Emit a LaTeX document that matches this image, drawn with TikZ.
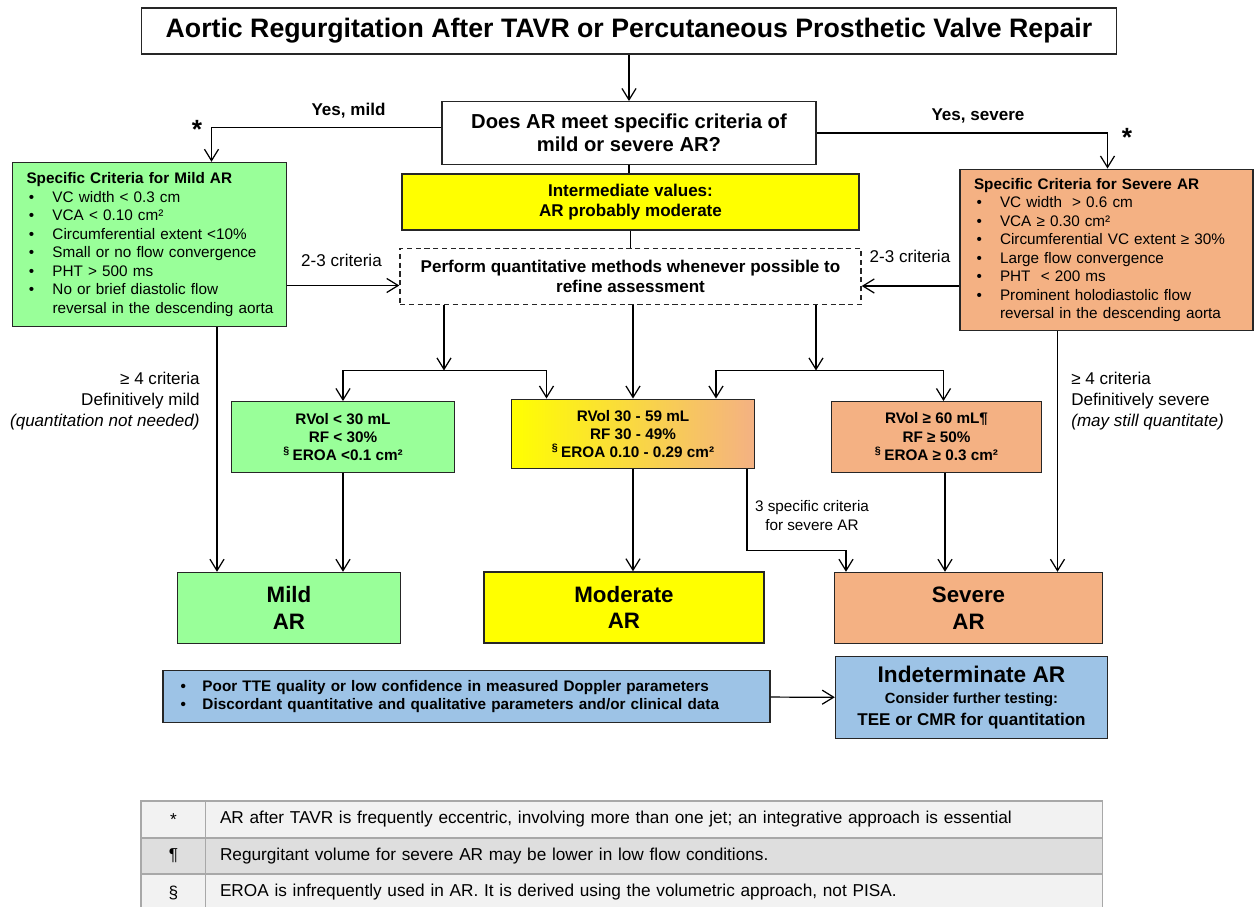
\documentclass[tikz,border=0pt]{standalone}
\usepackage{fontspec}
\setmainfont{Liberation Sans}
\usetikzlibrary{arrows.meta}
\definecolor{mildgreen}{HTML}{99FF99}
\definecolor{modyellow}{HTML}{FFFF00}
\definecolor{sevorange}{HTML}{F4B183}
\definecolor{indblue}{HTML}{9DC3E6}
\definecolor{rowlight}{HTML}{F2F2F2}
\definecolor{rowdark}{HTML}{DEDEDE}
\definecolor{rowline}{HTML}{A8A8A8}
\newcommand{\critbul}{\makebox[0.52cm][l]{\hspace{0.05cm}\textbullet}}
\newcommand{\critgap}{\hspace*{0.52cm}}
\newcommand{\cavbul}{\makebox[0.44cm][l]{\textbullet}}
\begin{document}
\begin{tikzpicture}[
	box/.style={draw=black!85, line width=0.8pt, align=center, inner sep=0pt},
	qtext/.style={font=\bfseries\fontsize{11.5}{13.2}\selectfont},
	btext/.style={font=\bfseries\fontsize{9.7}{11.4}\selectfont},
	vtext/.style={font=\bfseries\fontsize{8.7}{10.5}\selectfont},
	grade/.style={font=\bfseries\fontsize{12.7}{15.1}\selectfont},
	critbox/.style={box, align=left, inner xsep=0.28cm, font=\fontsize{8.7}{10.5}\selectfont},
	label/.style={inner sep=0pt, font=\fontsize{9.7}{11.9}\selectfont},
	star/.style={inner sep=0pt, font=\bfseries\fontsize{15}{15}\selectfont},
	arr/.style={draw=black, line width=0.7pt, -{Straight Barb[length=6.5pt,width=8pt,line width=0.7pt]}},
	conn/.style={draw=black, line width=0.7pt},
	cell/.style={draw=rowline, line width=1pt, inner sep=0pt, minimum height=0.73cm, font=\fontsize{9.8}{11.8}\selectfont}
]
	\useasboundingbox (0,0) rectangle (25.10,-18.14);
	\node[box, line width=1pt, minimum width=19.50cm, minimum height=0.93cm, font=\bfseries\fontsize{15.2}{18}\selectfont] (title) at (12.58,-0.62) {Aortic Regurgitation After TAVR or Percutaneous Prosthetic Valve Repair};
	\node[box, qtext, minimum width=7.48cm, minimum height=1.25cm] (question) at (12.58,-2.66) {Does AR meet specific criteria of\\mild or severe AR?};
	\node[box, btext, fill=modyellow, minimum width=9.14cm, minimum height=1.12cm] (interm) at (12.61,-4.04) {Intermediate values:\\AR probably moderate};
	\node[box, btext, dash pattern=on 3pt off 2pt, minimum width=9.22cm, minimum height=1.13cm] (quant) at (12.61,-5.53) {Perform quantitative methods whenever possible to\\refine assessment};
	\node[critbox, fill=mildgreen, text width=4.92cm, minimum height=3.28cm] (mildcrit) at (2.99,-4.89) {\textbf{Specific Criteria for Mild AR}\\
		\critbul VC width < 0.3 cm\\
		\critbul VCA < 0.10 cm²\\
		\critbul Circumferential extent <10\%\\
		\critbul Small or no flow convergence\\
		\critbul PHT > 500 ms\\
		\critbul No or brief diastolic flow\\
		\critgap\mbox{reversal in the descending aorta}};
	\node[critbox, fill=sevorange, text width=5.30cm, minimum height=3.23cm] (sevcrit) at (22.13,-5.00) {\textbf{Specific Criteria for Severe AR}\\
		\critbul VC width \ > 0.6 cm\\
		\critbul VCA ≥ 0.30 cm²\\
		\critbul Circumferential VC extent ≥ 30\%\\
		\critbul Large flow convergence\\
		\critbul PHT \ < 200 ms\\
		\critbul Prominent holodiastolic flow\\
		\critgap\mbox{reversal in the descending aorta}};
	\node[box, vtext, fill=mildgreen, minimum width=4.45cm, minimum height=1.41cm] (mildq) at (6.86,-8.74) {RVol < 30 mL\\RF < 30\%\\\textsuperscript{§}\,EROA <0.1 cm²};
	\node[box, vtext, left color=modyellow, right color=sevorange, minimum width=4.86cm, minimum height=1.39cm] (modq) at (12.66,-8.68) {RVol 30 - 59 mL\\RF 30 - 49\%\\\textsuperscript{§}\,EROA 0.10 - 0.29 cm²};
	\node[box, vtext, fill=sevorange, minimum width=4.21cm, minimum height=1.41cm] (sevq) at (18.73,-8.74) {RVol ≥ 60 mL¶\\RF ≥ 50\%\\\textsuperscript{§}\,EROA ≥ 0.3 cm²};
	\node[box, grade, fill=mildgreen, minimum width=4.45cm, minimum height=1.42cm] (mildar) at (5.78,-12.16) {Mild\\AR};
	\node[box, grade, fill=modyellow, minimum width=5.60cm, minimum height=1.42cm] (modar) at (12.48,-12.15) {Moderate\\AR};
	\node[box, grade, fill=sevorange, minimum width=5.37cm, minimum height=1.42cm] (sevar) at (19.37,-12.16) {Severe\\AR};
	\node[box, fill=indblue, align=left, text width=11.44cm, inner xsep=0.35cm, minimum height=1.03cm, font=\bfseries\fontsize{8.7}{10.4}\selectfont] (caveat) at (9.33,-13.93) {\cavbul Poor TTE quality or low confidence in measured Doppler parameters\\\cavbul Discordant quantitative and qualitative parameters and/or clinical data};
	\node[box, fill=indblue, minimum width=5.44cm, minimum height=1.63cm, font=\bfseries] (indet) at (19.43,-13.95) {\fontsize{12.9}{15}\selectfont Indeterminate AR\\\fontsize{8.4}{11.6}\selectfont Consider further testing:\\\fontsize{9.7}{11.9}\selectfont TEE or CMR for quantitation};
	\node[label, font=\bfseries\fontsize{9.7}{11.9}\selectfont] (yesmild) at (6.97,-2.22) {Yes, mild};
	\node[label, font=\bfseries\fontsize{9.7}{11.9}\selectfont] (yessev) at (19.56,-2.31) {Yes, severe};
	\node[star] (starmild) at (3.94,-2.58) {*};
	\node[star] (starsev) at (22.54,-2.75) {*};
	\node[label] (mildcount) at (6.83,-5.20) {2-3 criteria};
	\node[label] (sevcount) at (18.20,-5.13) {2-3 criteria};
	\node[label, anchor=east, align=right] (milddef) at (4.00,-8.02) {≥ 4 criteria\\Definitively mild\\\textit{(quantitation not needed)}};
	\node[label, anchor=west, align=left] (sevdef) at (21.42,-8.03) {≥ 4 criteria\\Definitively severe\\\textit{(may still quantitate)}};
	\node[label, align=center, font=\fontsize{8.7}{10.8}\selectfont] (sevthree) at (16.24,-10.32) {3 specific criteria\\for severe AR};
	\draw[arr] (title) -- (question);
	\draw[arr] ([yshift=0.11cm]question.west) -| ([xshift=1.24cm]mildcrit.north);
	\draw[arr] (question.east) -| ([xshift=0.02cm]sevcrit.north);
	\draw[conn] (question.south) -- (question.south |- interm.north);
	\draw[conn] (interm.south) -- (interm.south |- quant.north);
	\coordinate (mildout) at ([yshift=-0.82cm]mildcrit.east);
	\coordinate (sevout) at ([yshift=-0.72cm]sevcrit.west);
	\draw[arr] (mildout) -- (mildout -| quant.west);
	\draw[arr] (sevout) -- (sevout -| quant.east);
	\coordinate (splitl) at (8.88,-7.41);
	\coordinate (splitr) at (16.32,-7.41);
	\draw[arr] (splitl |- quant.south) -- (splitl);
	\draw[arr] (splitr |- quant.south) -- (splitr);
	\draw[arr] (splitl) -| (mildq.north);
	\draw[arr] (splitl) -| ([xshift=-1.73cm]modq.north);
	\draw[arr] (modq.north |- quant.south) -- (modq.north);
	\draw[arr] (splitr) -| ([xshift=1.66cm]modq.north);
	\draw[arr] (splitr) -| ([xshift=0.14cm]sevq.north);
	\coordinate (milddrop) at ([xshift=1.35cm]mildcrit.south);
	\coordinate (sevdrop) at ([xshift=-0.98cm]sevcrit.south);
	\coordinate (sevqdrop) at ([xshift=0.17cm]sevq.south);
	\draw[arr] (milddrop) -- (milddrop |- mildar.north);
	\draw[arr] (mildq.south) -- (mildq.south |- mildar.north);
	\draw[arr] (modq.south) -- (modq.south |- modar.north);
	\draw[arr] ([xshift=2.28cm]modq.south) -- ++(0,-1.62) -| ([xshift=-2.45cm]sevar.north);
	\draw[arr] (sevqdrop) -- (sevqdrop |- sevar.north);
	\draw[arr] (sevdrop) -- (sevdrop |- sevar.north);
	\draw[arr] (caveat) -- (indet);
	\node[cell, fill=rowlight, minimum width=1.29cm] (sym1) at (3.47,-16.39) {*};
	\node[cell, fill=rowlight, minimum width=17.94cm, text width=17.36cm, inner xsep=0.29cm, align=left] (note1) at (13.08,-16.39) {AR after TAVR is frequently eccentric, involving more than one jet; an integrative approach is essential};
	\node[cell, fill=rowdark, minimum width=1.29cm] (sym2) at (3.47,-17.12) {¶};
	\node[cell, fill=rowdark, minimum width=17.94cm, text width=17.36cm, inner xsep=0.29cm, align=left] (note2) at (13.08,-17.12) {Regurgitant volume for severe AR may be lower in low flow conditions.};
	\node[cell, fill=rowlight, minimum width=1.29cm] (sym3) at (3.47,-17.85) {§};
	\node[cell, fill=rowlight, minimum width=17.94cm, text width=17.36cm, inner xsep=0.29cm, align=left] (note3) at (13.08,-17.85) {EROA is infrequently used in AR. It is derived using the volumetric approach, not PISA.};
\end{tikzpicture}
\end{document}
